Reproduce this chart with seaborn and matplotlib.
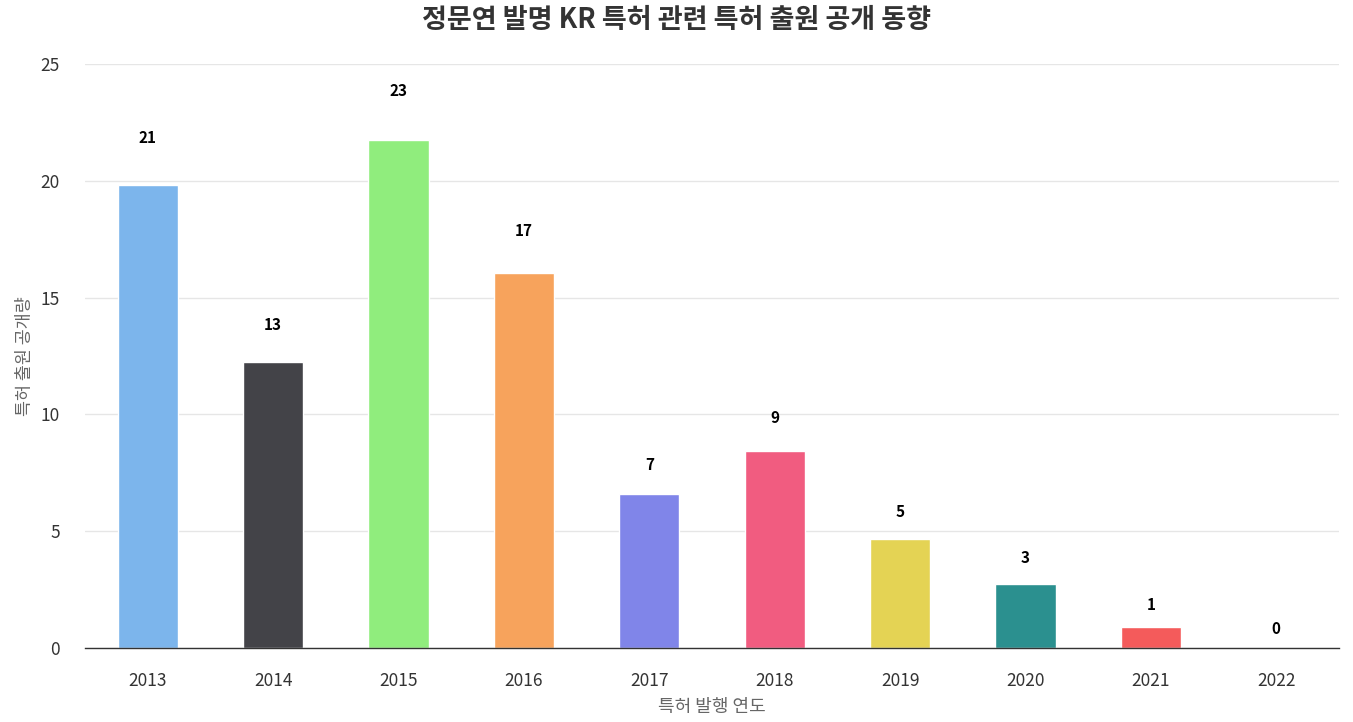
import matplotlib
matplotlib.use("Agg")
import matplotlib.pyplot as plt
import seaborn as sns
import pandas as pd

years = ["2013", "2014", "2015", "2016", "2017", "2018", "2019", "2020", "2021", "2022"]
counts = [21, 13, 23, 17, 7, 9, 5, 3, 1, 0]
# bar heights as drawn in the reference picture
bar_heights = [19.8, 12.25, 21.75, 16.05, 6.58, 8.45, 4.65, 2.75, 0.88, 0]
colors = ["#7cb5ec", "#434348", "#90ed7d", "#f7a35c", "#8085e9",
          "#f15c80", "#e4d354", "#2b908f", "#f45b5b", "#91e8e1"]
y_ticks = [0, 5, 10, 15, 20, 25]

title = "정문연 발명 KR 특허 관련 특허 출원 공개 동향"
x_label = "특허 발행 연도"
y_label = "특허 출원 공개량"

sns.set_theme(style="white")
plt.rcParams["font.family"] = ["Noto Sans CJK KR", "DejaVu Sans"]

df = pd.DataFrame({"year": years, "height": bar_heights, "count": counts})

fig = plt.figure(figsize=(13.53, 7.22), dpi=100)
ax = fig.add_axes([85 / 1353, 1 - 648 / 722, (1339 - 85) / 1353, (648 - 64) / 722])

sns.barplot(data=df, x="year", y="height", hue="year", palette=colors,
            saturation=1, legend=False, width=0.48, ax=ax,
            edgecolor="white", linewidth=1)

ax.set_ylim(0, 25)
ax.set_xlim(-0.5, len(years) - 0.5)
ax.set_yticks(y_ticks)
ax.yaxis.grid(True, color="#e6e6e6", linewidth=1)
ax.set_axisbelow(True)
for s in ["left", "right", "top"]:
    ax.spines[s].set_visible(False)
ax.spines["bottom"].set_color("#333333")
ax.spines["bottom"].set_linewidth(1)
ax.tick_params(axis="both", length=0, labelsize=12.5, colors="#333333")
ax.tick_params(axis="y", pad=18)
ax.tick_params(axis="x", pad=17)

for i, c in enumerate(counts):
    ax.annotate(str(c), xy=(i, c), xytext=(0, 14), textcoords="offset points",
                ha="center", va="center", fontsize=11, fontweight="bold", color="black")

ax.set_xlabel(x_label, fontsize=13, color="#666666", labelpad=6)
ax.set_ylabel(y_label, fontsize=12.5, color="#666666", labelpad=5)
fig.suptitle(title, x=0.5, y=0.992, fontsize=19.5, fontweight="bold", color="#333333")

fig.savefig("out.png", dpi=100)
